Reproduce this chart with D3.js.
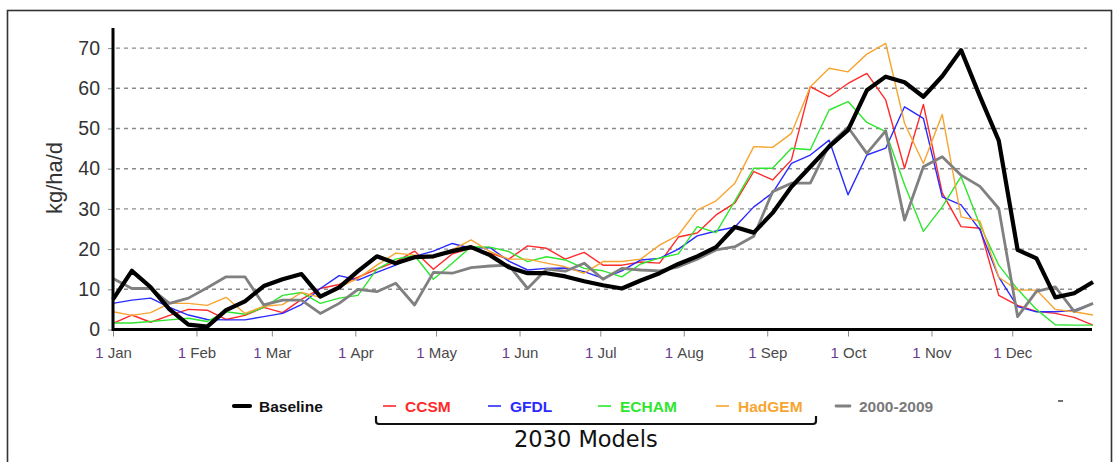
<!DOCTYPE html>
<html>
<head>
<meta charset="utf-8">
<script src="https://cdn.jsdelivr.net/npm/d3@7"></script>
<style>
  body { margin: 0; background: #fff; }
  svg  { display: block; }
</style>
</head>
<body>
<svg width="1114" height="462"></svg>
<script>

// weekly values, one point every 7 days starting 1 Jan
const weekOffsets = d3.range(0, 365, 7);

const baseline = [7.5, 14.6, 10.5, 5, 1.2, 0.7, 4.8, 7, 10.8, 12.5, 13.8, 8.2, 10.5, 14.5,
  18.2, 16.5, 18, 18.2, 19.5, 20.5, 18.5, 15.5, 14, 14, 13.2, 12, 11, 10.2, 12.2, 14, 16.3,
  18.2, 20.5, 25.5, 24.1, 29, 35.5, 40.5, 45.5, 49.6, 59.5, 62.9, 61.5, 57.9, 63, 69.5, 58,
  47, 19.8, 17.7, 8, 9, 11.8];
const ccsm     = [1.5, 3.6, 1.8, 3.5, 5, 4.8, 2.5, 3.5, 5.5, 4.2, 7.5, 10.2, 11.2, 13, 15,
  16.8, 19.5, 15, 18.8, 20.2, 19, 17.5, 20.8, 20.2, 17.5, 19.2, 16, 16, 16.8, 16.5, 23, 24,
  28.5, 31.5, 39.3, 37.2, 42.2, 60.4, 57.9, 61.2, 63.7, 57.1, 40.1, 56, 34, 25.6, 25.2, 8.5,
  6, 4.5, 4, 3, 1.1];
const gfdl     = [6.5, 7.3, 7.8, 5.5, 3.6, 2.5, 2.4, 2.4, 3.2, 4, 6.2, 10.2, 13.4, 12.3, 14.2,
  16, 18.2, 19.5, 21.4, 20.2, 20.4, 17, 14.8, 15.2, 15.3, 14.4, 12.7, 14.6, 17.3, 17.7, 20,
  23.3, 24.5, 25.5, 30.5, 34, 41.3, 43.4, 47.1, 33.5, 43.4, 45.1, 55.4, 52.5, 33, 31, 24.8,
  13, 5.7, 4.4, 4.4, 4.8, 6.5];
const echam    = [1.6, 1.6, 2, 2.4, 2.8, 2, 4.4, 3.8, 5.5, 8.5, 9.2, 6.5, 7.8, 8.5, 15, 17.5,
  18.4, 12.5, 16.5, 20.6, 20.5, 19.4, 16.9, 18.1, 17.3, 15.2, 14.6, 13.1, 16.3, 17.8, 18.8,
  25.6, 24.1, 32, 40.1, 40.1, 45.1, 44.7, 54.6, 56.7, 51.5, 49.2, 36, 24.4, 30.5, 38, 26, 16,
  10, 5, 1.2, 1.1, 1.1];
const hadgem   = [4.4, 3.5, 4.2, 6.5, 6.5, 6, 8, 4, 5.8, 6.2, 9.2, 8, 10.5, 12.7, 16, 19,
  18.5, 17.8, 19.8, 22.3, 19.4, 17.5, 17.5, 16.5, 15.6, 14, 16.9, 16.9, 17.5, 21, 23.5, 29.7,
  32, 36.4, 45.5, 45.3, 48.8, 60.4, 65, 64.1, 68.5, 71.2, 51.3, 41.3, 53.5, 28, 27, 13, 9.8,
  9.8, 5, 4.4, 3.6];
const past     = [12.7, 10.2, 10.2, 6.5, 7.8, 10.4, 13.1, 13.1, 6.1, 7.3, 7.3, 4, 6.5, 10,
  9.4, 11.5, 6.1, 14.2, 14, 15.4, 15.8, 16, 10.2, 15, 14.5, 16.5, 12.5, 15.2, 14.8, 14.6,
  15.6, 17.5, 19.8, 20.6, 23.2, 34.3, 36.4, 36.4, 45.9, 50.3, 43.8, 49.4, 27.2, 40.5, 43,
  38.4, 35.6, 30.1, 3.2, 9.5, 10.6, 4.5, 6.5];

const monthNames = ['Jan', 'Feb', 'Mar', 'Apr', 'May', 'Jun',
                    'Jul', 'Aug', 'Sep', 'Oct', 'Nov', 'Dec'];
const yTicks     = [0, 10, 20, 30, 40, 50, 60, 70];

const series = [
  { name: 'CCSM',      values: ccsm,     color: '#ff2a2a', width: 1.4 },
  { name: 'GFDL',      values: gfdl,     color: '#2a2aff', width: 1.4 },
  { name: 'ECHAM',     values: echam,    color: '#2ee62e', width: 1.4 },
  { name: 'HadGEM',    values: hadgem,   color: '#f7a531', width: 1.4 },
  { name: '2000-2009', values: past,     color: '#808080', width: 2.8 },
  { name: 'Baseline',  values: baseline, color: '#000000', width: 4.2 }
];

// legend layout: swatch start x and swatch length
const legendPos = {
  'Baseline':  [234, 16], 'CCSM':   [383, 13], 'GFDL':      [488, 13],
  'ECHAM':     [598, 13], 'HadGEM': [716, 13], '2000-2009': [836, 14]
};
const legendText = { 'Baseline': '#111', '2000-2009': '#7a7a7a' };

const FONT   = "'Liberation Sans', Arial, sans-serif";
const year   = 2001;
const day0   = new Date(year, 0, 1);

const svg    = d3.select('svg');

const x = d3.scaleTime()
  .domain([day0, d3.timeDay.offset(day0, 364)])
  .range([113, 1093]);

const y = d3.scaleLinear()
  .domain([0, 75])
  .range([329.5, 28]);

const dateAt = i => d3.timeDay.offset(day0, weekOffsets[i]);

// outer frame
svg.append('rect')
    .attr('x', 7.5).attr('y', 10.5)
    .attr('width', 1104).attr('height', 470)
    .attr('fill', 'none')
    .attr('stroke', '#333')
    .attr('stroke-width', 1.6);

// dashed grid
svg.append('g')
  .selectAll('line').data(yTicks.filter(d => d > 0))
  .enter().append('line')
    .attr('x1', 116).attr('x2', 1087)
    .attr('y1', d => y(d)).attr('y2', d => y(d))
    .attr('stroke', '#8a8a8a')
    .attr('stroke-width', 1.4)
    .attr('stroke-dasharray', '4,4');

// y axis
const yAxisG = svg.append('g')
    .attr('transform', 'translate(113,0)')
    .call(d3.axisLeft(y).tickValues(yTicks).tickSize(5).tickPadding(8));
yAxisG.select('.domain').remove();
yAxisG.selectAll('.tick line').attr('stroke', '#888');
yAxisG.selectAll('.tick text')
    .attr('font-family', FONT)
    .attr('font-size', 19.5)
    .attr('fill', '#333');

svg.append('text')
    .attr('transform', 'translate(62,178) rotate(-90)')
    .attr('text-anchor', 'middle')
    .attr('font-family', FONT)
    .attr('font-size', 22)
    .attr('fill', '#333')
    .text('kg/ha/d');

// x axis
const monthDates = monthNames.map((m, i) => new Date(year, i, 1));
const xAxisG = svg.append('g')
    .attr('transform', `translate(0,${y(0)})`)
    .call(d3.axisBottom(x).tickValues(monthDates).tickSize(7).tickPadding(11));
xAxisG.select('.domain').remove();
xAxisG.selectAll('.tick line').attr('stroke', '#888');
xAxisG.selectAll('.tick text')
    .attr('font-family', FONT)
    .attr('font-size', 15)
    .text(null)
    .each(function(d) {
      const t = d3.select(this);
      t.append('tspan').attr('fill', '#6b3a93').text('1');
      t.append('tspan').attr('fill', '#4a4a4a').text('\u00A0' + monthNames[d.getMonth()]);
    });

// series lines
const line = d3.line()
  .x((d, i) => x(dateAt(i)))
  .y(d => y(d));

svg.append('g')
  .selectAll('path').data(series)
  .enter().append('path')
    .attr('d', s => line(s.values))
    .attr('fill', 'none')
    .attr('stroke', s => s.color)
    .attr('stroke-width', s => s.width)
    .attr('stroke-linejoin', 'round');

// heavy axis lines on top
svg.append('line')
    .attr('x1', 113).attr('x2', 113)
    .attr('y1', y(0) + 1.5).attr('y2', y(75))
    .attr('stroke', '#000').attr('stroke-width', 3);
svg.append('line')
    .attr('x1', 112).attr('x2', 1092)
    .attr('y1', y(0)).attr('y2', y(0))
    .attr('stroke', '#000').attr('stroke-width', 3);

// legend
const legendY = 406;
const legend = svg.append('g');
['Baseline', 'CCSM', 'GFDL', 'ECHAM', 'HadGEM', '2000-2009'].forEach(name => {
  const s          = series.find(d => d.name === name);
  const [lx, len]  = legendPos[name];
  legend.append('line')
      .attr('x1', lx).attr('x2', lx + len)
      .attr('y1', legendY).attr('y2', legendY)
      .attr('stroke', s.color)
      .attr('stroke-width', Math.max(1.6, s.width))
      .attr('stroke-linecap', s.width > 2 ? 'round' : 'butt');
  legend.append('text')
      .attr('x', lx + len + 9).attr('y', legendY + 6)
      .attr('font-family', FONT)
      .attr('font-size', 15.5)
      .attr('font-weight', 'bold')
      .attr('fill', legendText[name] || s.color)
      .text(name);
});

legend.append('line')
    .attr('x1', 1058).attr('x2', 1063)
    .attr('y1', 401).attr('y2', 401)
    .attr('stroke', '#444').attr('stroke-width', 1.5);

// bracket under the 2030 model entries
svg.append('path')
    .attr('d', 'M376,416 L376,421 Q376,424 379,424 L813,424 Q816,424 816,421 L816,416')
    .attr('fill', 'none')
    .attr('stroke', '#111')
    .attr('stroke-width', 2.2);

svg.append('text')
    .attr('x', 514).attr('y', 447)
    .attr('font-family', "'DejaVu Sans', Verdana, sans-serif")
    .attr('font-size', 22.5)
    .attr('fill', '#111')
    .text('2030 Models');

</script>
</body>
</html>
